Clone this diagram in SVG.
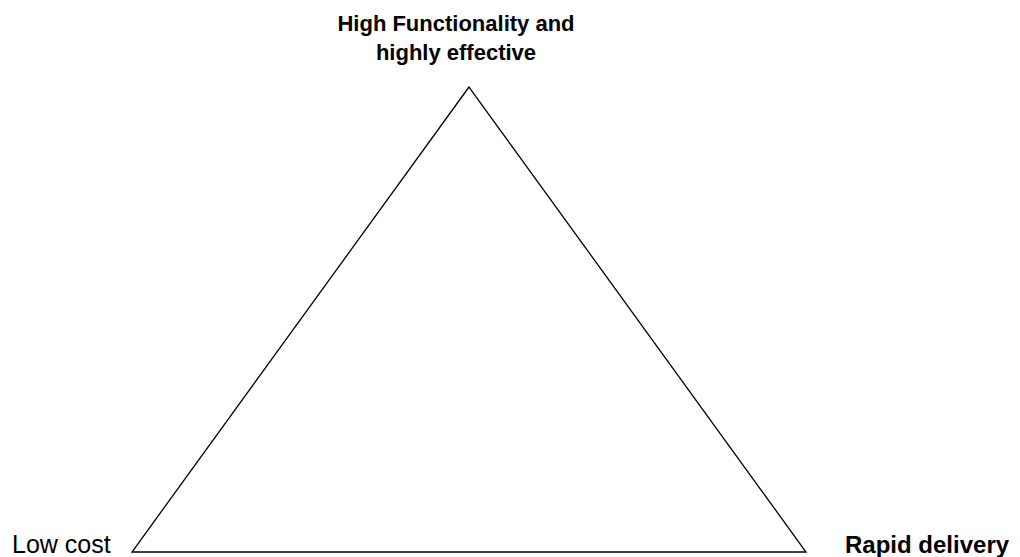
<svg xmlns="http://www.w3.org/2000/svg" width="1020" height="557" viewBox="0 0 1020 557">
<style>
.t{font-family:"Liberation Sans",Arial,sans-serif;fill:#000}
.b{font-weight:bold}
.tri{fill:none;stroke:#000;stroke-width:1.3;stroke-linejoin:miter}
</style>
<rect width="1020" height="557" fill="#fff"/>
<g id="connectors">
<polygon class="tri" points="469,87 132,552 806,552"/>
</g>
<g id="top">
<text class="t b" x="456" y="31" font-size="22" text-anchor="middle">High Functionality and</text>
<text class="t b" x="456" y="60" font-size="22" text-anchor="middle">highly effective</text>
</g>
<g id="left">
<text class="t" x="12" y="553" font-size="25">Low cost</text>
</g>
<g id="right">
<text class="t b" x="845" y="553" font-size="24">Rapid delivery</text>
</g>
</svg>
